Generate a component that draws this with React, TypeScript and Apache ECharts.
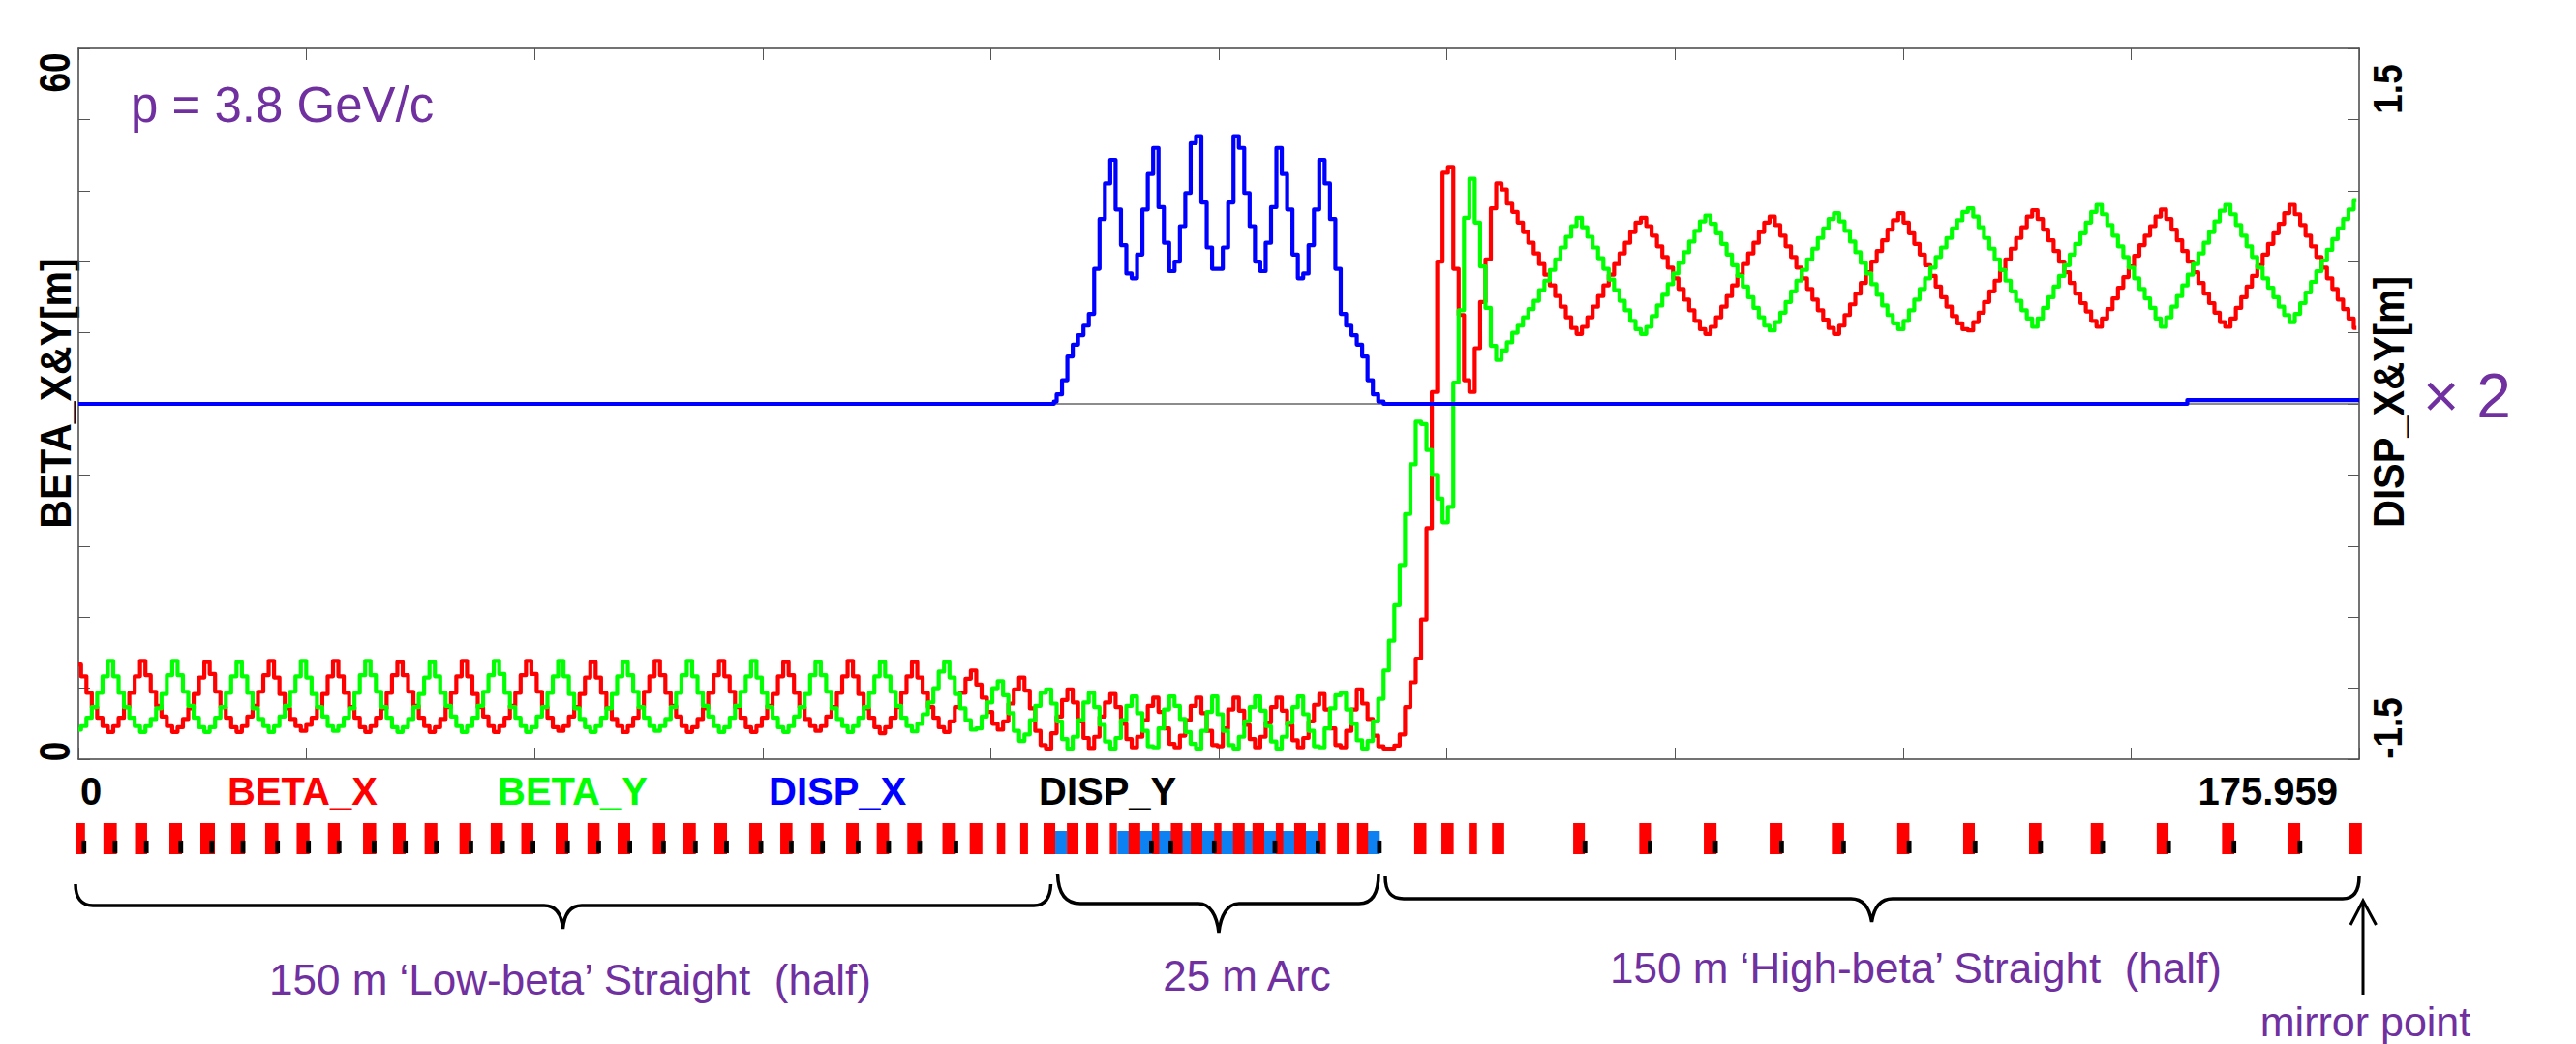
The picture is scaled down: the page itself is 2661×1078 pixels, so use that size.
import React, { useEffect, useRef } from "react";
import * as echarts from "echarts";

const S_MAX = 175.959;
const STEP = S_MAX / 425.5;

const betaXLow = [
  8.0,7.0,5.6,4.4,3.5,2.8,2.3,2.8,3.5,4.4,5.6,7.0,
  8.3,7.1,5.7,4.5,3.6,2.8,2.3,2.7,3.4,4.3,5.5,6.9,
  8.2,7.2,5.7,4.4,3.5,2.7,2.3,2.8,3.6,4.5,5.7,7.1,
  8.3,6.9,5.5,4.3,3.4,2.8,2.4,2.9,3.5,4.4,5.5,7.0,
  8.3,7.0,5.6,4.4,3.5,2.7,2.3,2.8,3.5,4.3,5.6,7.1,
  8.2,7.1,5.7,4.5,3.5,2.8,2.3,2.7,3.4,4.4,5.6,7.0,
  8.3,7.0,5.5,4.4,3.6,2.8,2.3,2.8,3.5,4.5,5.6,7.1,
  8.3,7.2,5.7,4.4,3.5,2.7,2.4,2.8,3.6,4.4,5.5,6.9,
  8.2,6.9,5.6,4.3,3.4,2.8,2.3,2.8,3.5,4.4,5.7,7.0,
  8.3,7.1,5.6,4.5,3.6,2.8,2.3,2.7,3.4,4.3,5.6,7.1,
  8.3,7.0,5.7,4.4,3.5,2.7,2.3,2.8,3.5,4.5,5.5,7.0,
  8.2,7.1,5.6,4.4,3.4,2.8,2.4,2.8,3.6,4.4,5.6,7.0,
  8.3,7.0,5.5,4.3,3.5,2.7,2.2,2.7,3.5,4.4,5.6,7.0,
];
const betaXArc = [
  8.2,6.9,5.6,4.4,3.5,2.7,2.3,3.2,4.4,5.6,6.8,7.5,
  6.3,5.2,4.0,3.0,2.5,3.2,4.7,5.9,6.9,5.8,4.3,2.4,1.2,0.9,
  2.2,3.6,5.0,5.9,4.8,3.2,1.8,0.95,1.9,3.6,4.8,5.5,
  4.4,3.0,1.7,1.0,1.9,3.3,4.5,5.2,4.0,2.6,1.3,1.0,
  2.0,3.3,4.5,5.2,3.9,2.4,1.2,1.1,2.6,4.2,5.2,
  4.1,2.9,1.7,1.0,1.9,3.1,4.4,5.2,4.1,2.9,1.6,1.0,
  1.8,3.2,4.6,5.5,4.2,2.6,1.2,1.0,2.4,4.2,5.9,4.7,3.4,2.0,1.1,
];
const betaXRise = [
  0.9,0.9,1.15,2.1,4.4,6.5,8.5,11.8,19.5,31,42,49.5,50,
  41.4,37.5,32,31,34.7,38.6,42.2,46.5,48.6,48.1,
];
const betaXHigh = [
  46.9,46.2,45.3,44.5,43.6,42.7,41.8,40.9,40.0,39.1,38.2,37.3,36.4,35.9,
  36.5,37.3,38.2,39.1,40.0,40.9,41.8,42.7,43.6,44.5,45.3,45.7,
  45.0,44.2,43.3,42.4,41.5,40.6,39.7,38.8,37.9,37.0,36.3,35.9,
  36.5,37.3,38.2,39.1,40.0,40.9,41.8,42.7,43.6,44.5,45.3,45.8,
  45.1,44.2,43.3,42.4,41.5,40.6,39.7,38.8,37.9,37.1,36.4,35.9,
  36.6,37.5,38.4,39.3,40.2,41.1,42.0,42.9,43.8,44.7,45.5,46.1,
  45.3,44.4,43.5,42.6,41.7,40.8,39.9,39.0,38.2,37.4,36.8,36.3,36.2,
  36.9,37.7,38.6,39.5,40.4,41.3,42.2,43.1,44.0,44.9,45.8,46.35,
  45.6,44.7,43.8,42.9,42.0,41.1,40.2,39.3,38.5,37.8,37.0,36.5,
  37.2,38.0,38.9,39.8,40.7,41.6,42.5,43.4,44.2,45.0,45.8,46.4,
  45.6,44.7,43.8,42.9,42.0,41.1,40.2,39.3,38.5,37.7,36.9,36.5,
  37.2,38.1,39.0,39.9,40.8,41.7,42.6,43.5,44.4,45.2,46.1,46.8,
  46.0,45.1,44.2,43.3,42.4,41.5,40.6,39.7,38.8,38.0,37.2,36.4,
];

const betaYLow = [
  2.5,2.8,3.5,4.4,5.6,7.0,8.3,7.0,5.6,4.4,3.5,2.8,
  2.3,2.8,3.4,4.3,5.5,7.1,8.3,7.1,5.7,4.5,3.5,2.7,
  2.3,2.7,3.5,4.4,5.6,7.0,8.2,7.0,5.6,4.3,3.4,2.8,
  2.3,2.8,3.6,4.5,5.7,7.0,8.3,6.9,5.5,4.4,3.6,2.8,
  2.4,2.8,3.5,4.3,5.6,7.1,8.3,7.1,5.7,4.4,3.5,2.7,
  2.3,2.7,3.4,4.4,5.5,6.9,8.2,7.0,5.6,4.5,3.6,2.8,
  2.3,2.8,3.5,4.5,5.7,7.1,8.3,7.2,5.6,4.4,3.5,2.8,
  2.3,2.7,3.6,4.4,5.6,7.0,8.3,7.0,5.5,4.3,3.4,2.7,
  2.3,2.8,3.5,4.3,5.5,7.0,8.2,7.1,5.7,4.4,3.5,2.8,
  2.4,2.8,3.4,4.4,5.6,7.1,8.3,7.0,5.6,4.5,3.6,2.8,
  2.3,2.7,3.5,4.5,5.7,7.0,8.3,6.9,5.6,4.4,3.5,2.7,
  2.3,2.8,3.6,4.4,5.5,7.1,8.2,7.1,5.7,4.3,3.4,2.8,
  2.3,2.8,3.5,4.4,5.6,7.0,
];
const betaYArc = [
  8.2,7.0,5.7,4.5,3.5,2.8,2.35,3.0,3.8,4.8,6.0,7.4,8.2,
  6.9,5.5,4.3,3.3,2.5,2.6,3.6,4.8,6.0,6.6,
  5.4,3.9,2.4,1.55,2.1,3.3,4.5,5.6,5.9,
  4.7,3.2,1.7,0.9,1.9,3.3,4.8,5.6,
  4.4,2.9,1.5,0.9,1.8,3.3,4.5,5.3,
  3.9,2.4,1.1,1.0,2.6,4.2,5.3,
  4.5,3.4,2.3,1.3,0.9,2.4,4.0,5.3,
  3.8,2.4,1.2,0.9,1.9,3.2,4.4,5.3,
  4.1,2.8,1.5,0.9,1.9,3.1,4.4,5.3,
  3.8,2.4,1.1,1.0,2.6,4.3,5.4,5.6,
  4.2,3.0,1.6,0.9,
];
const betaYRise = [
  1.55,3.2,5.1,7.5,10,13,16.4,20.7,24.9,28.5,28.3,26.1,24,22,20,21.3,
  31.8,37.9,45.7,49,45.3,41.6,38.1,34.9,33.7,
];
const betaYHigh = [
  34.5,35.2,36.0,36.6,37.3,38.0,38.7,39.6,40.4,41.3,42.2,43.2,44.1,45.0,45.7,
  44.9,44.1,43.2,42.3,41.4,40.5,39.6,38.7,37.9,37.0,36.3,35.9,
  36.5,37.4,38.3,39.2,40.1,41.0,41.9,42.8,43.7,44.6,45.4,45.9,
  45.2,44.4,43.5,42.6,41.7,40.8,39.9,39.0,38.1,37.3,36.6,36.2,
  36.9,37.7,38.6,39.5,40.4,41.3,42.2,43.1,44.0,44.8,45.6,46.1,
  45.4,44.6,43.7,42.8,41.9,41.0,40.1,39.2,38.3,37.5,36.8,36.3,
  37.0,37.9,38.8,39.7,40.6,41.5,42.4,43.2,44.0,44.8,45.5,46.2,46.5,
  45.8,44.9,44.0,43.1,42.2,41.3,40.4,39.5,38.7,37.9,37.2,36.5,
  37.2,38.1,39.0,39.9,40.8,41.7,42.6,43.5,44.4,45.3,46.2,46.8,
  46.0,45.1,44.2,43.3,42.4,41.5,40.6,39.7,38.9,38.1,37.2,36.5,
  37.3,38.2,39.1,40.0,40.9,41.8,42.7,43.6,44.5,45.4,46.3,46.8,
  46.0,45.1,44.2,43.3,42.4,41.5,40.6,39.8,39.0,38.2,37.5,36.9,
  37.6,38.5,39.4,40.3,41.2,42.1,43.0,43.9,44.8,45.6,46.4,47.2,
];

const dispXHumpStart = 182;
const dispXHump = [
  0.01,0.04,0.10,0.20,0.25,0.29,0.33,0.38,0.57,0.78,0.93,1.03,0.82,0.67,0.55,0.53,
  0.63,0.82,0.97,1.08,0.83,0.68,0.56,0.60,0.75,0.89,1.10,1.13,0.85,0.66,0.57,0.57,
  0.66,0.85,1.13,1.08,0.89,0.75,0.60,0.56,0.68,0.83,1.08,0.97,0.82,0.63,0.53,0.55,
  0.67,0.82,1.03,0.93,0.78,0.57,0.38,0.33,0.29,0.25,0.20,0.10,0.04,0.01,0,
];
const dispXBefore = [[0, 0], [75.26, 0]];
const dispXAfter = [[162.5, 0], [162.9, 0.016], [S_MAX, 0.016]];
const dispYLine = [[0, 0], [S_MAX, 0]];

const redMagnets = [
  [-0.18,0.51],[1.93,2.96],[4.37,5.30],[7.02,7.99],[9.41,10.53],[11.80,12.85],[14.41,15.43],[16.84,17.83],
  [19.25,20.17],[21.96,22.97],[24.27,25.24],[26.71,27.69],[29.40,30.31],[31.81,32.75],[34.17,35.10],
  [36.82,37.79],[39.27,40.21],[41.60,42.57],[44.33,45.26],[46.68,47.63],[49.07,50.04],[51.76,52.73],
  [54.15,55.09],[56.54,57.49],[59.23,60.20],[61.59,62.54],[63.95,65.03],[66.66,67.69],[68.76,69.74],
  [70.86,71.50],[72.66,73.26],[74.46,75.36],[76.26,77.15],[77.75,78.65],[79.57,80.12],[81.02,81.92],
  [82.82,83.38],[84.28,85.18],[85.82,86.71],[87.62,88.18],[89.08,89.98],[90.58,91.49],[92.38,92.95],
  [93.80,94.70],[95.64,96.24],[97.10,98.04],[98.64,99.50],[103.06,104.00],[105.16,106.10],[107.26,107.90],
  [109.06,110.00],[115.32,116.22],[120.42,121.32],[125.40,126.38],[130.48,131.46],[135.28,136.22],
  [140.32,141.26],[145.41,146.31],[150.49,151.44],[155.25,156.20],[160.34,161.25],[165.38,166.33],
  [170.44,171.41],[175.21,176.17],
];
const blueMagnets = [
  [75.36,76.26],[80.16,81.53],[81.66,84.67],[84.88,86.17],[86.46,89.38],[89.68,91.31],[91.49,94.18],
  [94.48,95.64],[99.24,100.40],
];
const blackMarkers = [
  0.25,2.65,5.06,7.72,10.11,12.52,15.18,17.57,19.93,22.63,25.04,27.43,30.10,32.54,34.89,37.55,39.96,
  42.36,44.96,47.42,49.82,52.48,54.82,57.23,59.97,62.33,64.72,67.52,82.60,84.10,87.45,92.13,95.45,
  100.19,116.05,121.07,126.12,131.22,136.0,141.06,146.15,151.20,155.99,161.08,166.12,171.21,
];

const leftTickLabels = ["60", "0"];
const rightTickLabels = ["1.5", "-1.5"];
const legendLabels = ["BETA_X", "BETA_Y", "DISP_X", "DISP_Y"];
const sLabels = ["0", "175.959"];

const FONT = "Liberation Sans";
const PURPLE = "#7030a0";

const braceLow = "M78 913 C78 927 84 935 96 935 L562 935 C574 935 580 943 581.5 959 C583 943 589 935 601 935 L1068 935 C1080 935 1085 927 1085.5 913";
const braceArc = "M1092.5 902 C1093 922 1100 933 1116 933 L1238 933 C1250 933 1257 945 1259 963 C1261 945 1268 933 1280 933 L1404 933 C1418 933 1424 922 1424 902";
const braceHigh = "M1431 905 C1431 920 1436 928 1450 928 L1912 928 C1924 928 1931 936 1933.5 952 C1936 936 1943 928 1955 928 L2420 928 C2432 928 2437 920 2437 905";
const arrowPath = "M2441 1027 L2441 932 M2428 955 L2441 930 L2454.5 955";

function registerAnnotationShapes() {
  echarts.graphic.registerShape("braceLow", echarts.graphic.extendPath(braceLow, {}));
  echarts.graphic.registerShape("braceArc", echarts.graphic.extendPath(braceArc, {}));
  echarts.graphic.registerShape("braceHigh", echarts.graphic.extendPath(braceHigh, {}));
  echarts.graphic.registerShape("mirrorArrow", echarts.graphic.extendPath(arrowPath, {}));
}

const textEl = (text: string, x: number, y: number, size: number, fill: string, opts: any = {}) => ({
  type: "text",
  x,
  y,
  rotation: opts.rotation || 0,
  scaleY: opts.scaleY || 1,
  silent: true,
  style: {
    text,
    fill,
    fontFamily: FONT,
    fontSize: size,
    fontWeight: opts.bold ? "bold" : "normal",
    textAlign: opts.align || "center",
    textVerticalAlign: "middle",
  },
});

const rectRender = (yLow: number, yHigh: number, fill: string, fixedWidth?: number) => (params: any, api: any) => {
  const a = api.value(0);
  const b = fixedWidth ? a + fixedWidth : api.value(1);
  const p0 = api.coord([a, yHigh]);
  const p1 = api.coord([b, yLow]);
  return {
    type: "rect",
    shape: { x: p0[0], y: p0[1], width: p1[0] - p0[0], height: p1[1] - p0[1] },
    style: { fill },
  };
};

export default function App() {
  const ref = useRef<HTMLDivElement>(null);
  useEffect(() => {
    document.body.style.margin = "0";
    registerAnnotationShapes();
    const chart = echarts.init(ref.current!, undefined, { renderer: "svg" });
    const betaX = [...betaXLow, ...betaXArc, ...betaXRise, ...betaXHigh];
    const betaY = [...betaYLow, ...betaYArc, ...betaYRise, ...betaYHigh];
    const toPts = (vals: number[]) => vals.map((v, i) => [Math.min(i * STEP, S_MAX), v]);
    const dispX = [
      ...dispXBefore,
      ...dispXHump.map((v, i) => [(dispXHumpStart + i) * STEP, v]),
      ...dispXAfter,
    ];
    const axisLine = { show: true, onZero: false, lineStyle: { color: "#444", width: 1.5 } };
    const tick = { show: true, inside: true, length: 12, lineStyle: { color: "#555", width: 1 } };
    const lineSeries = (name: string, data: any[], color: string, width: number, yAxisIndex: number, step: any) => ({
      name,
      type: "line",
      data,
      xAxisIndex: 0,
      yAxisIndex,
      step,
      showSymbol: false,
      silent: true,
      lineStyle: { color, width, join: "round" },
      itemStyle: { color },
    });
    chart.setOption({
      animation: false,
      backgroundColor: "#ffffff",
      textStyle: { fontFamily: FONT },
      grid: [
        { left: 81, top: 50, width: 2356, height: 734, show: false },
        { left: 81, top: 850, width: 2356, height: 32, show: false },
      ],
      xAxis: [
        { type: "value", gridIndex: 0, min: 0, max: S_MAX, interval: S_MAX / 10, position: "bottom", axisLine, axisTick: tick, axisLabel: { show: false }, splitLine: { show: false } },
        { type: "value", gridIndex: 0, min: 0, max: S_MAX, interval: S_MAX / 10, position: "top", axisLine, axisTick: tick, axisLabel: { show: false }, splitLine: { show: false } },
        { type: "value", gridIndex: 1, min: 0, max: S_MAX, show: false },
      ],
      yAxis: [
        { type: "value", gridIndex: 0, min: 0, max: 60, interval: 6, position: "left", axisLine, axisTick: tick, axisLabel: { show: false }, splitLine: { show: false } },
        { type: "value", gridIndex: 0, min: -1.5, max: 1.5, interval: 0.3, position: "right", axisLine, axisTick: tick, axisLabel: { show: false }, splitLine: { show: false } },
        { type: "value", gridIndex: 1, min: 0, max: 1, show: false },
      ],
      series: [
        lineSeries("DISP_Y", dispYLine, "#666666", 1.5, 1, false),
        lineSeries("BETA_X", toPts(betaX), "#ff0000", 4.2, 0, "middle"),
        lineSeries("BETA_Y", toPts(betaY), "#00ff00", 4.2, 0, "middle"),
        lineSeries("DISP_X", dispX, "#0000ff", 4.2, 1, "middle"),
        { type: "custom", xAxisIndex: 2, yAxisIndex: 2, data: blueMagnets, clip: false, silent: true, encode: { x: [0, 1] }, renderItem: rectRender(0, 0.75, "#0d80f2") },
        { type: "custom", xAxisIndex: 2, yAxisIndex: 2, data: redMagnets, clip: false, silent: true, encode: { x: [0, 1] }, renderItem: rectRender(0, 1, "#ff0000") },
        { type: "custom", xAxisIndex: 2, yAxisIndex: 2, data: blackMarkers.map((s) => [s]), clip: false, silent: true, encode: { x: 0 }, renderItem: rectRender(0.03, 0.44, "#000000", 0.36) },
      ],
      graphic: [
        textEl(leftTickLabels[0], 57, 75, 37, "#000", { bold: true, rotation: Math.PI / 2, scaleY: 1.2 }),
        textEl(leftTickLabels[1], 57, 776, 37, "#000", { bold: true, rotation: Math.PI / 2, scaleY: 1.2 }),
        textEl("BETA_X&Y[m]", 57, 406, 41, "#000", { bold: true, rotation: Math.PI / 2, scaleY: 1.1 }),
        textEl(rightTickLabels[0], 2466, 92, 37, "#000", { bold: true, rotation: Math.PI / 2, scaleY: 1.15 }),
        textEl(rightTickLabels[1], 2466, 752, 37, "#000", { bold: true, rotation: Math.PI / 2, scaleY: 1.15 }),
        textEl("DISP_X&Y[m]", 2468, 415, 40, "#000", { bold: true, rotation: Math.PI / 2, scaleY: 1.1 }),
        textEl(sLabels[0], 83, 817, 40, "#000", { bold: true, align: "left" }),
        textEl(legendLabels[0], 235, 817, 40, "#ff0000", { bold: true, align: "left" }),
        textEl(legendLabels[1], 514, 817, 40, "#00ff00", { bold: true, align: "left" }),
        textEl(legendLabels[2], 794, 817, 40, "#0000ff", { bold: true, align: "left" }),
        textEl(legendLabels[3], 1073, 817, 40, "#000", { bold: true, align: "left" }),
        textEl(sLabels[1], 2415, 817, 40, "#000", { bold: true, align: "right" }),
        textEl("p = 3.8 GeV/c", 135, 108, 51, PURPLE, { align: "left" }),
        textEl("× 2", 2503, 409, 64, PURPLE, { align: "left" }),
        textEl("150 m ‘Low-beta’ Straight  (half)", 589, 1011, 44, PURPLE),
        textEl("25 m Arc", 1288, 1007, 44, PURPLE),
        textEl("150 m ‘High-beta’ Straight  (half)", 1979, 999, 44, PURPLE),
        textEl("mirror point", 2443.5, 1055, 43, PURPLE),
        { type: "braceLow", silent: true, style: { fill: "none", stroke: "#000", lineWidth: 3.5 } },
        { type: "braceArc", silent: true, style: { fill: "none", stroke: "#000", lineWidth: 3.5 } },
        { type: "braceHigh", silent: true, style: { fill: "none", stroke: "#000", lineWidth: 3.5 } },
        { type: "mirrorArrow", silent: true, style: { fill: "none", stroke: "#000", lineWidth: 3 } },
      ],
    });
    return () => chart.dispose();
  }, []);
  return <div ref={ref} style={{ position: "absolute", left: 0, top: 0, width: 2661, height: 1078 }} />;
}
